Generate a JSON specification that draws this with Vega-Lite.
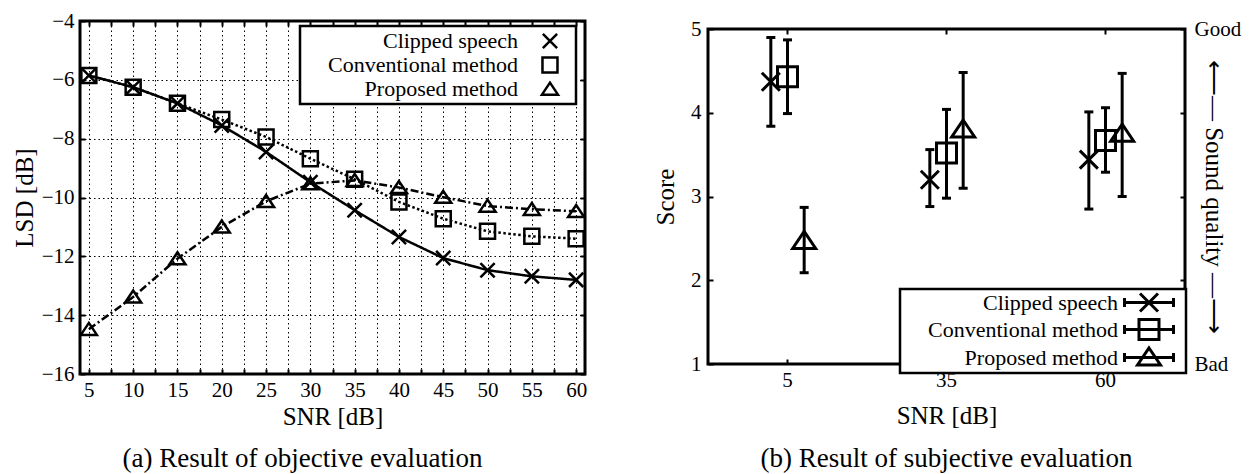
{
  "$schema": "https://vega.github.io/schema/vega-lite/v6.json",
  "background": "white",
  "padding": {"left": 10, "top": 8, "right": 0, "bottom": 0},
  "spacing": 61,
  "resolve": {"scale": {"shape": "independent", "strokeDash": "independent"}, "legend": {"shape": "independent"}},
  "config": {
    "font": "Liberation Serif",
    "view": {"stroke": "black", "strokeWidth": 3},
    "axis": {
      "domain": false, "grid": false,
      "labelFont": "Liberation Serif", "labelFontSize": 21, "labelColor": "black",
      "titleFont": "Liberation Serif", "titleFontSize": 25, "titleFontWeight": "normal", "titleColor": "black",
      "tickColor": "black", "tickSize": -5, "tickWidth": 2,
      "labelFlush": false, "labelOverlap": false, "labelBound": false
    },
    "legend": {
      "labelFont": "Liberation Serif", "labelFontSize": 22, "labelColor": "black", "labelLimit": 400,
      "strokeWidth": 2.5
    },
    "title": {"font": "Liberation Serif", "fontSize": 27, "fontWeight": "normal", "color": "black", "orient": "bottom", "anchor": "middle"}
  },
  "datasets": {
    "lsd": [
      {"method": "Clipped speech", "snr": 5, "lsd": -5.85},
      {"method": "Clipped speech", "snr": 10, "lsd": -6.25},
      {"method": "Clipped speech", "snr": 15, "lsd": -6.8},
      {"method": "Clipped speech", "snr": 20, "lsd": -7.55},
      {"method": "Clipped speech", "snr": 25, "lsd": -8.45},
      {"method": "Clipped speech", "snr": 30, "lsd": -9.48},
      {"method": "Clipped speech", "snr": 35, "lsd": -10.43},
      {"method": "Clipped speech", "snr": 40, "lsd": -11.34},
      {"method": "Clipped speech", "snr": 45, "lsd": -12.06},
      {"method": "Clipped speech", "snr": 50, "lsd": -12.47},
      {"method": "Clipped speech", "snr": 55, "lsd": -12.68},
      {"method": "Clipped speech", "snr": 60, "lsd": -12.8},
      {"method": "Conventional method", "snr": 5, "lsd": -5.85},
      {"method": "Conventional method", "snr": 10, "lsd": -6.25},
      {"method": "Conventional method", "snr": 15, "lsd": -6.8},
      {"method": "Conventional method", "snr": 20, "lsd": -7.35},
      {"method": "Conventional method", "snr": 25, "lsd": -7.94},
      {"method": "Conventional method", "snr": 30, "lsd": -8.68},
      {"method": "Conventional method", "snr": 35, "lsd": -9.38},
      {"method": "Conventional method", "snr": 40, "lsd": -10.15},
      {"method": "Conventional method", "snr": 45, "lsd": -10.72},
      {"method": "Conventional method", "snr": 50, "lsd": -11.15},
      {"method": "Conventional method", "snr": 55, "lsd": -11.32},
      {"method": "Conventional method", "snr": 60, "lsd": -11.4},
      {"method": "Proposed method", "snr": 5, "lsd": -14.48},
      {"method": "Proposed method", "snr": 10, "lsd": -13.38},
      {"method": "Proposed method", "snr": 15, "lsd": -12.08},
      {"method": "Proposed method", "snr": 20, "lsd": -11.0},
      {"method": "Proposed method", "snr": 25, "lsd": -10.13},
      {"method": "Proposed method", "snr": 30, "lsd": -9.53},
      {"method": "Proposed method", "snr": 35, "lsd": -9.42},
      {"method": "Proposed method", "snr": 40, "lsd": -9.66},
      {"method": "Proposed method", "snr": 45, "lsd": -9.99},
      {"method": "Proposed method", "snr": 50, "lsd": -10.29},
      {"method": "Proposed method", "snr": 55, "lsd": -10.4},
      {"method": "Proposed method", "snr": 60, "lsd": -10.47}
    ],
    "score": [
      {"method": "Clipped speech", "snr": 5, "mean": 4.37, "lo": 3.84, "hi": 4.9},
      {"method": "Conventional method", "snr": 5, "mean": 4.43, "lo": 3.99, "hi": 4.87},
      {"method": "Proposed method", "snr": 5, "mean": 2.47, "lo": 2.09, "hi": 2.87},
      {"method": "Clipped speech", "snr": 35, "mean": 3.2, "lo": 2.88, "hi": 3.56},
      {"method": "Conventional method", "snr": 35, "mean": 3.52, "lo": 2.98, "hi": 4.04},
      {"method": "Proposed method", "snr": 35, "mean": 3.8, "lo": 3.1, "hi": 4.48},
      {"method": "Clipped speech", "snr": 60, "mean": 3.44, "lo": 2.85, "hi": 4.01},
      {"method": "Conventional method", "snr": 60, "mean": 3.67, "lo": 3.29, "hi": 4.06},
      {"method": "Proposed method", "snr": 60, "mean": 3.75, "lo": 3.0, "hi": 4.47}
    ]
  },
  "hconcat": [
    {
      "width": 505,
      "height": 353,
      "data": {"name": "lsd"},
      "title": {"text": "(a) Result of objective evaluation", "dx": -30, "offset": 17},
      "resolve": {"axis": {"x": "independent", "y": "independent"}, "scale": {"shape": "independent"}, "legend": {"shape": "independent"}},
      "layer": [
        {
          "mark": {"type": "line", "color": "black", "strokeWidth": 2.5},
          "encoding": {
            "x": {"field": "snr", "type": "quantitative",
              "scale": {"domain": [4, 61], "nice": false, "zero": false},
              "axis": {"orient": "bottom", "title": "SNR [dB]",
                "values": [5, 7.5, 10, 12.5, 15, 17.5, 20, 22.5, 25, 27.5, 30, 32.5, 35, 37.5, 40, 42.5, 45, 47.5, 50, 52.5, 55, 57.5, 60],
                "labelExpr": "datum.value % 5 === 0 ? datum.label : ''",
                "grid": true, "gridDash": [1.5, 3], "gridColor": "black", "gridWidth": 1, "gridOpacity": 1,
                "labelPadding": 10, "titlePadding": 4}},
            "y": {"field": "lsd", "type": "quantitative",
              "scale": {"domain": [-16, -4], "nice": false, "zero": false},
              "axis": {"orient": "left", "title": "LSD [dB]",
                "values": [-16, -14, -12, -10, -8, -6, -4],
                "grid": true, "gridDash": [1.5, 3], "gridColor": "black", "gridWidth": 1, "gridOpacity": 1,
                "labelPadding": 11, "titlePadding": 4}},
            "strokeDash": {"field": "method", "type": "nominal",
              "scale": {"domain": ["Proposed method", "Conventional method", "Clipped speech"], "range": [[8, 3, 2, 3], [2.5, 2.5], [1, 0]]},
              "legend": null}
          }
        },
        {
          "mark": {"type": "point", "filled": false, "color": "black", "strokeWidth": 2.5, "size": 225, "opacity": 1},
          "encoding": {
            "x": {"field": "snr", "type": "quantitative",
              "axis": {"orient": "top", "labels": false, "title": null,
                "values": [5, 7.5, 10, 12.5, 15, 17.5, 20, 22.5, 25, 27.5, 30, 32.5, 35, 37.5, 40, 42.5, 45, 47.5, 50, 52.5, 55, 57.5, 60]}},
            "y": {"field": "lsd", "type": "quantitative",
              "axis": {"orient": "right", "labels": false, "title": null, "values": [-16, -14, -12, -10, -8, -6, -4]}},
            "shape": {"field": "method", "type": "nominal",
              "scale": {"domain": ["Clipped speech", "Conventional method", "Proposed method"],
                "range": ["M-0.95,-0.95L0.95,0.95M-0.95,0.95L0.95,-0.95", "M-1,-1H1V1H-1Z", "M0,-0.85L1.07,0.75H-1.07Z"]},
              "legend": null}
          }
        },
        {
          "mark": {"type": "point", "filled": false, "color": "black", "strokeWidth": 2.5, "size": 225, "opacity": 0},
          "encoding": {
            "shape": {"field": "method", "type": "nominal",
              "scale": {"domain": ["Clipped speech", "Conventional method", "Proposed method"],
                "range": ["M30.38,-0.95L32.28,0.95M30.38,0.95L32.28,-0.95M33.5,0", "M30.33,-1H32.33V1H30.33ZM33.5,0", "M31.33,-0.85L32.4,0.75H30.26ZM33.5,0"]},
              "legend": {
                "title": null, "orient": "none", "legendX": 220, "legendY": 5, "padding": 4,
                "labelAlign": "right", "labelOffset": 192, "rowPadding": -2.5,
                "strokeColor": "black", "fillColor": "white",
                "symbolSize": 225, "symbolStrokeWidth": 2.5, "symbolStrokeColor": "black", "symbolFillColor": "transparent", "symbolOpacity": 1
              }}
          }
        }
      ]
    },
    {
      "spacing": 7,
      "bounds": "flush",
      "vconcat": [
        {
          "width": 477,
          "height": 1,
          "data": {"values": [{"a": 0}]},
          "mark": {"type": "point", "opacity": 0},
          "view": {"stroke": null}
        },
        {
          "width": 477,
          "height": 335,
          "data": {"name": "score"},
          "title": {"text": "(b) Result of subjective evaluation", "offset": 18},
          "resolve": {"axis": {"x": "independent", "y": "independent"}, "scale": {"shape": "independent"}, "legend": {"shape": "independent"}},
          "layer": [
            {
              "mark": {"type": "rule", "color": "black", "strokeWidth": 3},
              "encoding": {
                "x": {"field": "snr", "type": "ordinal",
                  "scale": {"type": "band", "paddingInner": 0, "paddingOuter": 0, "domain": [5, 35, 60]},
                  "axis": {"orient": "bottom", "title": "SNR [dB]", "labelAngle": 0, "labelPadding": 10, "titlePadding": 13}},
                "xOffset": {"field": "method", "type": "nominal",
                  "scale": {"type": "point", "domain": ["Clipped speech", "Conventional method", "Proposed method"], "range": [54.5, 104.5]}},
                "y": {"field": "lo", "type": "quantitative",
                  "scale": {"domain": [1, 5], "nice": false, "zero": false},
                  "axis": {"orient": "left", "title": "Score", "values": [1, 2, 3, 4, 5], "labelPadding": 12, "titlePadding": 12}},
                "y2": {"field": "hi"}
              }
            },
            {
              "mark": {"type": "tick", "orient": "horizontal", "color": "black", "size": 9, "thickness": 3, "opacity": 1},
              "encoding": {
                "x": {"field": "snr", "type": "ordinal", "axis": null},
                "xOffset": {"field": "method", "type": "nominal"},
                "y": {"field": "hi", "type": "quantitative", "axis": null}
              }
            },
            {
              "mark": {"type": "tick", "orient": "horizontal", "color": "black", "size": 9, "thickness": 3, "opacity": 1},
              "encoding": {
                "x": {"field": "snr", "type": "ordinal", "axis": null},
                "xOffset": {"field": "method", "type": "nominal"},
                "y": {"field": "lo", "type": "quantitative", "axis": null}
              }
            },
            {
              "mark": {"type": "point", "filled": false, "color": "black", "strokeWidth": 3, "size": 400, "opacity": 1},
              "encoding": {
                "x": {"field": "snr", "type": "ordinal",
                  "axis": {"orient": "top", "labels": false, "title": null}},
                "xOffset": {"field": "method", "type": "nominal"},
                "y": {"field": "mean", "type": "quantitative",
                  "axis": {"orient": "right", "values": [1, 2, 3, 4, 5],
                    "labelExpr": "datum.value === 5 ? 'Good' : datum.value === 1 ? 'Bad' : ''",
                    "labelPadding": 14, "title": "⟵— Sound quality —⟶", "titleAngle": 90, "titlePadding": -40}},
                "shape": {"field": "method", "type": "nominal",
                  "scale": {"domain": ["Clipped speech", "Conventional method", "Proposed method"],
                    "range": ["M-0.9,-0.9L0.9,0.9M-0.9,0.9L0.9,-0.9", "M-1,-1H1V1H-1Z", "M0,-0.95L1.15,0.75H-1.15Z"]},
                  "legend": null}
              }
            },
            {
              "mark": {"type": "point", "filled": false, "color": "black", "strokeWidth": 3, "size": 400, "opacity": 0},
              "encoding": {
                "shape": {"field": "method", "type": "nominal",
                  "scale": {"domain": ["Clipped speech", "Conventional method", "Proposed method"],
                    "range": [
                      "M21.1,0H26M21.1,-0.45V0.45M26,-0.45V0.45M22.65,-0.9L24.45,0.9M22.65,0.9L24.45,-0.9M26.4,0",
                      "M21.1,0H26M21.1,-0.45V0.45M26,-0.45V0.45M22.55,-1H24.55V1H22.55ZM26.4,0",
                      "M21.1,0H26M21.1,-0.45V0.45M26,-0.45V0.45M23.55,-0.95L24.7,0.75H22.4ZM26.4,0"
                    ]},
                  "legend": {
                    "title": null, "orient": "none", "legendX": 192, "legendY": 260, "padding": 2,
                    "labelAlign": "right", "labelOffset": 193, "rowPadding": -15,
                    "strokeColor": "black", "fillColor": "white",
                    "symbolSize": 400, "symbolStrokeWidth": 3, "symbolStrokeColor": "black", "symbolFillColor": "transparent", "symbolOpacity": 1
                  }}
              }
            }
          ]
        }
      ]
    }
  ]
}
